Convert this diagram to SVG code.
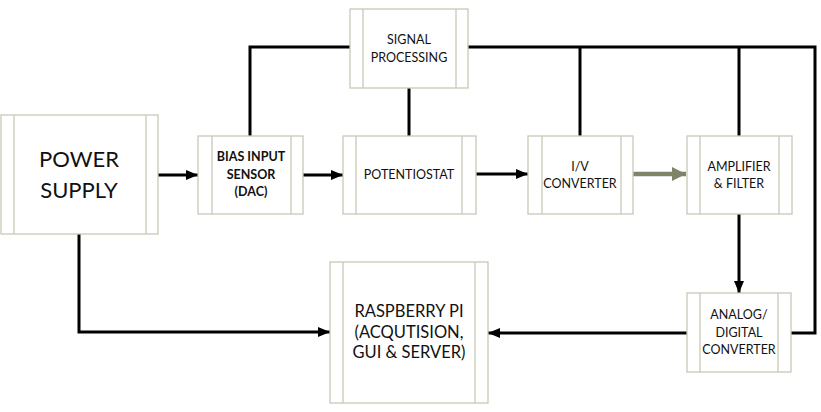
<svg xmlns="http://www.w3.org/2000/svg" width="821" height="412" viewBox="0 0 821 412">
<defs>
<marker id="ah" viewBox="0 0 12 10" refX="12" refY="5" markerWidth="12" markerHeight="10" markerUnits="userSpaceOnUse" orient="auto">
<path d="M0,0 L12,5 L0,10 Z" fill="#000"/>
</marker>
<marker id="ahg" viewBox="0 0 14 14" refX="14" refY="7" markerWidth="14" markerHeight="14" markerUnits="userSpaceOnUse" orient="auto">
<path d="M0,0 L14,7 L0,14 Z" fill="#7f8468"/>
</marker>
</defs>
<style>
.box{fill:#fff;stroke:#c9c8b6;stroke-width:1.3}
.div{stroke:#c9c8b6;stroke-width:1.3;fill:none}
.t{font-family:Lato,"Open Sans",sans-serif;font-size:12.5px;fill:#111;text-anchor:middle}
.b{font-weight:bold}
.ln{stroke:#000;stroke-width:3;fill:none}
</style>
<rect width="821" height="412" fill="#fff"/>
<g id="connectors">
<polyline class="ln" points="250,136 250,47 350,47"/>
<polyline class="ln" points="468,47 815,47 815,333 791,333"/>
<line class="ln" x1="409" y1="88" x2="409" y2="136"/>
<line class="ln" x1="580" y1="47" x2="580" y2="136"/>
<line class="ln" x1="739" y1="47" x2="739" y2="136"/>
<line class="ln" x1="158" y1="175" x2="198" y2="175" marker-end="url(#ah)"/>
<line class="ln" x1="303" y1="175" x2="343" y2="175" marker-end="url(#ah)"/>
<line class="ln" x1="476" y1="174" x2="528" y2="174" marker-end="url(#ah)"/>
<line x1="633" y1="174" x2="686" y2="174" stroke="#7f8468" stroke-width="4.5" marker-end="url(#ahg)"/>
<line class="ln" x1="739" y1="214" x2="739" y2="293" marker-end="url(#ah)"/>
<line class="ln" x1="687" y1="333" x2="488" y2="333" marker-end="url(#ah)"/>
<polyline class="ln" points="79,234 79,332 330,332" marker-end="url(#ah)"/>
</g>
<g id="power-supply">
<rect class="box" x="1" y="115" width="157" height="119"/>
<path class="div" d="M14,115 V234 M146,115 V234"/>
<text class="t" x="79" y="167" style="font-size:22px">POWER</text>
<text class="t" x="79" y="198" style="font-size:22px">SUPPLY</text>
</g>
<g id="bias-input-sensor">
<rect class="box" x="198" y="136" width="105" height="78"/>
<path class="div" d="M212,136 V214 M291,136 V214"/>
<text class="t b" x="251" y="161">BIAS INPUT</text>
<text class="t b" x="251" y="179">SENSOR</text>
<text class="t b" x="251" y="196">(DAC)</text>
</g>
<g id="signal-processing">
<rect class="box" x="350" y="9" width="118" height="79"/>
<path class="div" d="M363,9 V88 M456,9 V88"/>
<text class="t" x="409" y="44">SIGNAL</text>
<text class="t" x="409" y="62">PROCESSING</text>
</g>
<g id="potentiostat">
<rect class="box" x="343" y="136" width="133" height="78"/>
<path class="div" d="M356,136 V214 M462,136 V214"/>
<text class="t" x="409" y="179">POTENTIOSTAT</text>
</g>
<g id="iv-converter">
<rect class="box" x="528" y="136" width="105" height="78"/>
<path class="div" d="M542,136 V214 M621,136 V214"/>
<text class="t" x="580" y="171">I/V</text>
<text class="t" x="580" y="188">CONVERTER</text>
</g>
<g id="amplifier-filter">
<rect class="box" x="687" y="136" width="105" height="78"/>
<path class="div" d="M700,136 V214 M779,136 V214"/>
<text class="t" x="739" y="171">AMPLIFIER</text>
<text class="t" x="739" y="188">&amp; FILTER</text>
</g>
<g id="adc">
<rect class="box" x="687" y="293" width="104" height="79"/>
<path class="div" d="M700,293 V372 M778,293 V372"/>
<text class="t" x="739" y="319">ANALOG/</text>
<text class="t" x="739" y="337">DIGITAL</text>
<text class="t" x="739" y="354">CONVERTER</text>
</g>
<g id="raspberry-pi">
<rect class="box" x="330" y="262" width="158" height="141"/>
<path class="div" d="M343,262 V403 M475,262 V403"/>
<text class="t" x="409" y="317" style="font-size:16.5px">RASPBERRY PI</text>
<text class="t" x="409" y="338" style="font-size:16.5px">(ACQUTISION,</text>
<text class="t" x="409" y="358" style="font-size:16.5px">GUI &amp; SERVER)</text>
</g>
</svg>
